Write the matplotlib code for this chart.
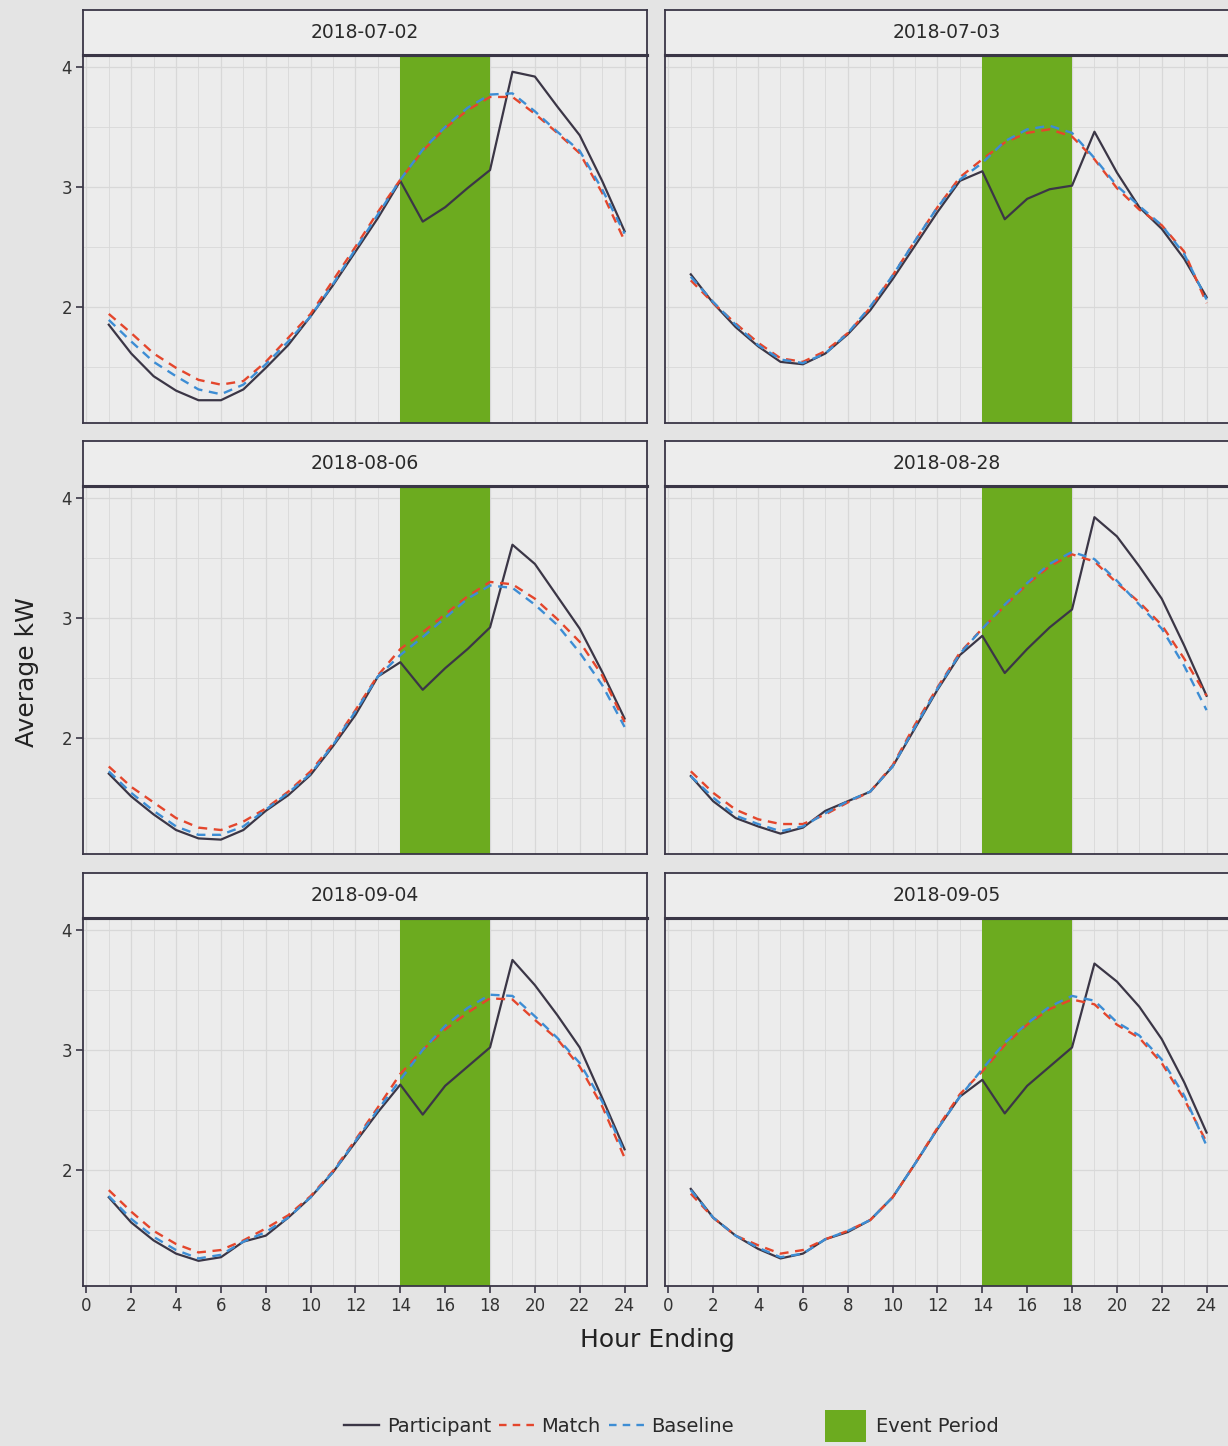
import matplotlib
matplotlib.use("Agg")
import matplotlib.pyplot as plt
from matplotlib.lines import Line2D
from matplotlib.patches import Patch
from matplotlib.ticker import MultipleLocator

plt.rcParams['font.family'] = ['DejaVu Sans']

hours = list(range(1, 25))
dates = ["2018-07-02", "2018-07-03", "2018-08-06", "2018-08-28", "2018-09-04", "2018-09-05"]
event_start = 14
event_end = 18

participant_0702 = [1.85, 1.61, 1.42, 1.30, 1.22, 1.22, 1.31, 1.49, 1.68, 1.92, 2.18, 2.46,
                    2.74, 3.05, 2.71, 2.83, 2.99, 3.14, 3.96, 3.92, 3.67, 3.43, 3.05, 2.63]
match_0702 = [1.94, 1.78, 1.61, 1.49, 1.39, 1.35, 1.38, 1.54, 1.74, 1.94, 2.22, 2.50,
              2.79, 3.06, 3.30, 3.49, 3.64, 3.75, 3.75, 3.61, 3.45, 3.28, 2.95, 2.55]
baseline_0702 = [1.89, 1.71, 1.54, 1.42, 1.31, 1.27, 1.35, 1.52, 1.71, 1.92, 2.19, 2.48,
                 2.77, 3.06, 3.31, 3.50, 3.66, 3.77, 3.78, 3.63, 3.46, 3.30, 2.98, 2.61]

participant_0703 = [2.27, 2.03, 1.83, 1.67, 1.54, 1.52, 1.61, 1.77, 1.97, 2.23, 2.51, 2.79,
                    3.05, 3.13, 2.73, 2.90, 2.98, 3.01, 3.46, 3.12, 2.83, 2.65, 2.40, 2.08]
match_0703 = [2.22, 2.03, 1.86, 1.70, 1.57, 1.54, 1.63, 1.78, 1.99, 2.26, 2.55, 2.83,
              3.08, 3.23, 3.37, 3.45, 3.48, 3.42, 3.23, 2.99, 2.81, 2.68, 2.46, 2.03]
baseline_0703 = [2.25, 2.04, 1.85, 1.68, 1.56, 1.53, 1.61, 1.78, 2.00, 2.26, 2.55, 2.83,
                 3.06, 3.20, 3.38, 3.48, 3.51, 3.45, 3.24, 3.01, 2.84, 2.68, 2.44, 2.06]

participant_0806 = [1.70, 1.51, 1.36, 1.23, 1.16, 1.15, 1.23, 1.39, 1.52, 1.69, 1.93, 2.19,
                    2.51, 2.63, 2.40, 2.58, 2.74, 2.92, 3.61, 3.45, 3.18, 2.91, 2.55, 2.16]
match_0806 = [1.76, 1.59, 1.46, 1.33, 1.25, 1.23, 1.30, 1.41, 1.55, 1.72, 1.95, 2.23,
              2.52, 2.74, 2.88, 3.03, 3.18, 3.30, 3.28, 3.16, 2.99, 2.80, 2.52, 2.13]
baseline_0806 = [1.72, 1.54, 1.39, 1.26, 1.19, 1.19, 1.26, 1.40, 1.54, 1.70, 1.94, 2.22,
                 2.51, 2.69, 2.84, 3.00, 3.16, 3.27, 3.25, 3.11, 2.94, 2.71, 2.44, 2.09]

participant_0828 = [1.68, 1.47, 1.33, 1.26, 1.20, 1.25, 1.39, 1.47, 1.55, 1.76, 2.08, 2.40,
                    2.69, 2.85, 2.54, 2.74, 2.92, 3.07, 3.84, 3.68, 3.43, 3.16, 2.77, 2.35]
match_0828 = [1.72, 1.54, 1.40, 1.32, 1.28, 1.28, 1.36, 1.46, 1.55, 1.77, 2.11, 2.42,
              2.71, 2.91, 3.10, 3.28, 3.43, 3.53, 3.47, 3.29, 3.13, 2.94, 2.66, 2.35]
baseline_0828 = [1.68, 1.50, 1.35, 1.28, 1.22, 1.26, 1.37, 1.47, 1.55, 1.76, 2.09, 2.41,
                 2.70, 2.91, 3.11, 3.29, 3.45, 3.55, 3.49, 3.31, 3.11, 2.91, 2.60, 2.23]

participant_0904 = [1.77, 1.56, 1.41, 1.30, 1.24, 1.27, 1.40, 1.45, 1.60, 1.77, 1.98, 2.23,
                    2.48, 2.71, 2.46, 2.70, 2.86, 3.02, 3.75, 3.54, 3.29, 3.02, 2.60, 2.17]
match_0904 = [1.83, 1.65, 1.49, 1.38, 1.31, 1.33, 1.41, 1.51, 1.62, 1.78, 1.99, 2.25,
              2.52, 2.80, 3.00, 3.17, 3.31, 3.43, 3.42, 3.25, 3.09, 2.86, 2.53, 2.10]
baseline_0904 = [1.78, 1.59, 1.44, 1.33, 1.26, 1.29, 1.40, 1.48, 1.60, 1.77, 1.98, 2.24,
                 2.50, 2.75, 3.00, 3.20, 3.35, 3.46, 3.45, 3.28, 3.10, 2.89, 2.57, 2.14]

participant_0905 = [1.84, 1.60, 1.45, 1.34, 1.26, 1.30, 1.42, 1.48, 1.58, 1.77, 2.05, 2.34,
                    2.61, 2.75, 2.47, 2.70, 2.86, 3.02, 3.72, 3.57, 3.36, 3.09, 2.73, 2.31]
match_0905 = [1.80, 1.60, 1.45, 1.37, 1.30, 1.33, 1.42, 1.49, 1.58, 1.77, 2.05, 2.35,
              2.63, 2.82, 3.04, 3.21, 3.34, 3.42, 3.38, 3.21, 3.10, 2.89, 2.59, 2.23]
baseline_0905 = [1.83, 1.60, 1.45, 1.35, 1.27, 1.30, 1.42, 1.49, 1.58, 1.77, 2.05, 2.34,
                 2.61, 2.84, 3.06, 3.22, 3.36, 3.45, 3.41, 3.23, 3.12, 2.92, 2.62, 2.20]

participants = [participant_0702, participant_0703, participant_0806,
                participant_0828, participant_0904, participant_0905]
matches = [match_0702, match_0703, match_0806, match_0828, match_0904, match_0905]
baselines = [baseline_0702, baseline_0703, baseline_0806, baseline_0828, baseline_0904, baseline_0905]

W, H = 1228, 1446
fig = plt.figure(figsize=(W / 100, H / 100), dpi=100)
BG = '#e4e4e4'
fig.patch.set_facecolor(BG)

PANEL_BG = '#ececec'
STRIP_BG = '#ededed'
BORDER = '#3a3646'
GRID = '#d8d8d8'
GREEN = '#6cab1f'
C_PART = '#3b3646'
C_MATCH = '#e4462c'
C_BASE = '#3d8dd4'
DASH = (3.8, 2.8)

col_x = [83, 665]
panel_w = 564
strip_tops = [10, 441, 873]
strip_h = 45
panel_h = 368

for i, d in enumerate(dates):
    r, c = divmod(i, 2)
    x0 = col_x[c]
    st = strip_tops[r]
    ptop = st + strip_h
    ax = fig.add_axes([x0 / W, 1 - (ptop + panel_h) / H, panel_w / W, panel_h / H])
    sax = fig.add_axes([x0 / W, 1 - ptop / H, panel_w / W, strip_h / H])

    ax.set_facecolor(PANEL_BG)
    ax.set_xlim(-0.15, 25.0)
    ax.set_ylim(1.03, 4.1)
    ax.xaxis.set_major_locator(MultipleLocator(2))
    ax.xaxis.set_minor_locator(MultipleLocator(1))
    ax.yaxis.set_major_locator(MultipleLocator(1))
    ax.yaxis.set_minor_locator(MultipleLocator(0.5))
    ax.grid(which='major', color=GRID, lw=0.9)
    ax.grid(which='minor', color=GRID, lw=0.6)
    ax.set_axisbelow(True)

    ax.axvspan(event_start, event_end, color=GREEN, lw=0, zorder=1.5)
    ax.plot(hours, participants[i], color=C_PART, lw=1.6, zorder=3)
    ax.plot(hours, matches[i], color=C_MATCH, lw=1.7, dashes=DASH, zorder=4)
    ax.plot(hours, baselines[i], color=C_BASE, lw=1.7, dashes=DASH, zorder=5)

    for s in ax.spines.values():
        s.set_color(BORDER)
        s.set_linewidth(1.3)
    ax.spines['top'].set_linewidth(2.2)

    ax.tick_params(which='minor', length=0)
    ax.tick_params(which='major', direction='out', length=5, width=1.2, color=BORDER,
                   labelsize=12, labelcolor='#333333', pad=3)
    ax.set_xticks(range(0, 25, 2))
    ax.set_yticks([2, 3, 4])
    if c != 0:
        ax.tick_params(axis='y', which='major', length=0, labelleft=False)
    if r != 2:
        ax.tick_params(axis='x', which='major', length=0, labelbottom=False)

    sax.set_facecolor(STRIP_BG)
    sax.set_xticks([])
    sax.set_yticks([])
    for s in sax.spines.values():
        s.set_color(BORDER)
        s.set_linewidth(1.3)
    sax.spines['bottom'].set_linewidth(2.2)
    sax.text(0.5, 0.5, d, transform=sax.transAxes, ha='center', va='center',
             fontsize=13.5, color='#2a2a2a')

fig.text(27 / W, 1 - 672 / H, 'Average kW', rotation=90, ha='center', va='center',
         fontsize=18, color='#222222')
fig.text(657 / W, 1 - 1340 / H, 'Hour Ending', ha='center', va='center',
         fontsize=18, color='#222222')

line_handles = [
    Line2D([0], [0], color=C_PART, lw=1.7),
    Line2D([0], [0], color=C_MATCH, lw=1.7, dashes=(3.2, 2.6)),
    Line2D([0], [0], color=C_BASE, lw=1.7, dashes=(3.2, 2.6)),
]
fig.legend(line_handles, ['Participant', 'Match', 'Baseline'], loc='center',
           bbox_to_anchor=(539 / W, 1 - 1426 / H), ncol=3, frameon=False,
           fontsize=14, handlelength=1.8, handletextpad=0.4, columnspacing=0.4,
           labelcolor='#2a2a2a')
fig.legend([Patch(facecolor=GREEN, edgecolor='none')], ['Event Period'], loc='center',
           bbox_to_anchor=(912 / W, 1 - 1426 / H), frameon=False, fontsize=14,
           handlelength=2.1, handleheight=2.2, handletextpad=0.5, labelcolor='#2a2a2a')

fig.savefig('out.png', dpi=100, facecolor=BG)
